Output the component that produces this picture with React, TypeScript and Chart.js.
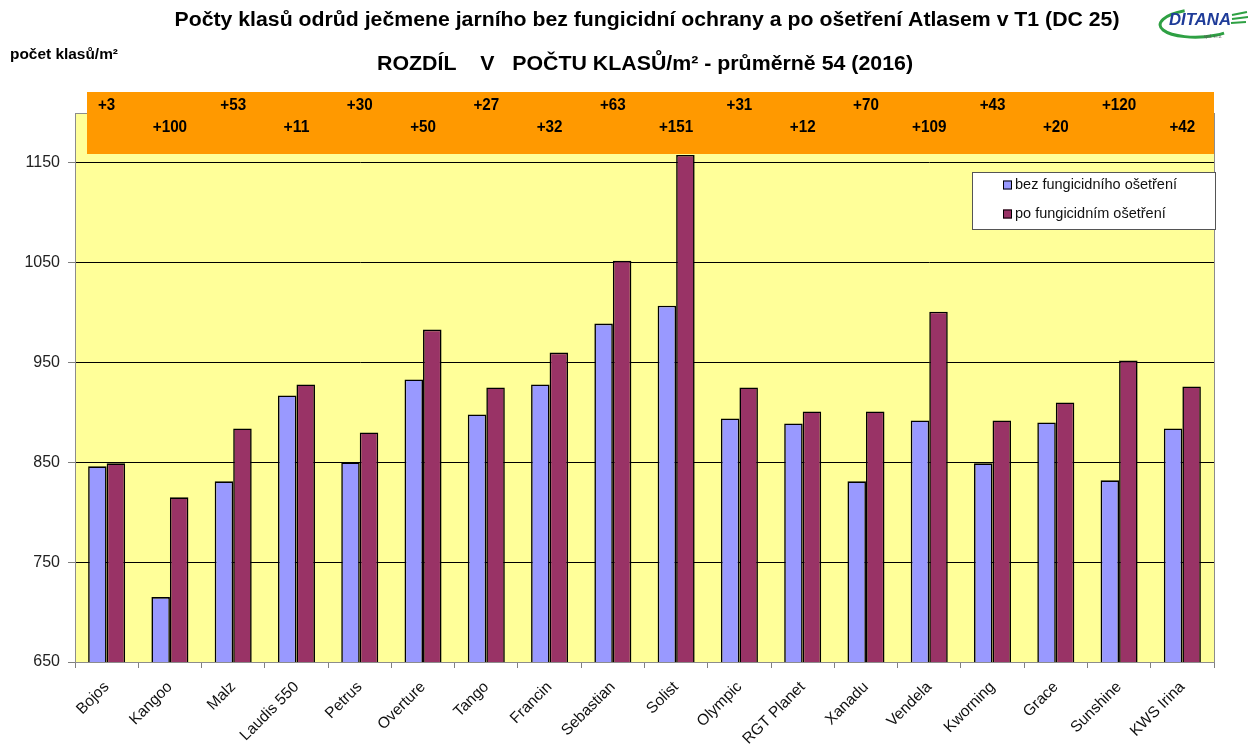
import React, { useEffect, useRef } from "react";
import { Chart, registerables } from "chart.js";

Chart.register(...registerables);

const categories = [
  "Bojos", "Kangoo", "Malz", "Laudis 550", "Petrus", "Overture", "Tango", "Francin", "Sebastian",
  "Solist", "Olympic", "RGT Planet", "Xanadu", "Vendela", "Kworning", "Grace", "Sunshine", "KWS Irina",
];
const withoutFungicide = [846, 715, 831, 917, 850, 933, 898, 928, 989, 1007, 894, 889, 831, 892, 849, 890, 832, 884];
const withFungicide = [849, 815, 884, 928, 880, 983, 925, 960, 1052, 1158, 925, 901, 901, 1001, 892, 910, 952, 926];
const differences = [3, 100, 53, 11, 30, 50, 27, 32, 63, 151, 31, 12, 70, 109, 43, 20, 120, 42];
const yTicks = [650, 750, 850, 950, 1050, 1150];
const yMin = 650;
const yMax = 1200;

const seriesLabels = ["bez fungicidního ošetření", "po fungicidním ošetření"];
const titleText = "Počty klasů odrůd ječmene jarního bez fungicidní ochrany a po ošetření Atlasem v T1 (DC 25)";
const subtitleText = "ROZDÍL    V   POČTU KLASŮ/m² - průměrně 54 (2016)";
const yAxisTitle = "počet klasů/m²";
const logoText = "DITANA";

const SANS = "'Liberation Sans', Arial, sans-serif";

function drawFit(ctx: CanvasRenderingContext2D, text: string, cx: number, cy: number, width: number, font: string, color: string) {
  ctx.save();
  ctx.font = font;
  const w = ctx.measureText(text).width;
  ctx.translate(cx, cy);
  ctx.scale(width / w, 1);
  ctx.textAlign = "center";
  ctx.textBaseline = "middle";
  ctx.fillStyle = color;
  ctx.fillText(text, 0, 0);
  ctx.restore();
}

const decorPlugin = {
  id: "decor",
  beforeDraw(chart: any) {
    const { ctx, chartArea } = chart;
    ctx.save();
    ctx.fillStyle = "#FFFFFF";
    ctx.fillRect(0, 0, chart.width, chart.height);
    ctx.fillStyle = "#FFFF99";
    ctx.fillRect(chartArea.left, chartArea.top, chartArea.right - chartArea.left, chartArea.bottom - chartArea.top);
    ctx.restore();
  },
  beforeDatasetsDraw(chart: any) {
    const { ctx, chartArea } = chart;
    ctx.save();
    ctx.strokeStyle = "#8C8C8C";
    ctx.lineWidth = 1;
    ctx.strokeRect(chartArea.left + 0.5, chartArea.top + 0.5, chartArea.right - chartArea.left, chartArea.bottom - chartArea.top);
    ctx.restore();
  },
  afterDatasetsDraw(chart: any) {
    const { ctx, chartArea } = chart;
    const xScale = chart.scales.x;
    ctx.save();
    // orange difference band
    const bandTop = chartArea.top - 21;
    const bandLeft = chartArea.left + 12;
    ctx.fillStyle = "#FF9900";
    ctx.fillRect(bandLeft, bandTop, chartArea.right - bandLeft, 62);
    differences.forEach((d, i) => {
      const x = xScale.getPixelForValue(i);
      const y = i % 2 === 0 ? bandTop + 13 : bandTop + 35;
      const label = "+" + d;
      drawFit(ctx, label, x, y, label.length * 8.6, `bold 17px ${SANS}`, "#000");
    });

    // legend box
    const lx = 972, ly = 172, lw = 243, lh = 57;
    ctx.fillStyle = "#FFFFFF";
    ctx.fillRect(lx, ly, lw, lh);
    ctx.strokeStyle = "#555555";
    ctx.lineWidth = 1;
    ctx.strokeRect(lx + 0.5, ly + 0.5, lw, lh);
    const ds = chart.data.datasets;
    ds.forEach((d: any, i: number) => {
      const cy = ly + 13 + i * 29;
      ctx.fillStyle = d.backgroundColor;
      ctx.fillRect(1003, cy - 4.5, 9, 9);
      ctx.strokeStyle = "#000";
      ctx.strokeRect(1003.5, cy - 4, 8, 8);
      ctx.fillStyle = "#111";
      ctx.font = `14.5px ${SANS}`;
      ctx.textAlign = "left";
      ctx.textBaseline = "middle";
      ctx.fillText(d.label, 1015, cy);
    });
    ctx.restore();
  },
  afterDraw(chart: any) {
    const { ctx } = chart;
    drawFit(ctx, titleText, 647, 20, 945, `bold 20px ${SANS}`, "#000");
    drawFit(ctx, subtitleText, 645, 64, 536, `bold 20px ${SANS}`, "#000");
    drawFit(ctx, yAxisTitle, 64, 55, 108, `bold 14px ${SANS}`, "#000");

    // logo
    ctx.save();
    ctx.strokeStyle = "#2EA043";
    ctx.lineWidth = 3;
    ctx.beginPath();
    ctx.ellipse(1200, 23, 40, 14, -0.05, Math.PI * 1.38, Math.PI * 0.3, true);
    ctx.stroke();
    ctx.lineWidth = 2;
    ctx.beginPath();
    ctx.moveTo(1232, 15); ctx.lineTo(1247, 12);
    ctx.moveTo(1232, 19); ctx.lineTo(1248, 17);
    ctx.moveTo(1231, 23); ctx.lineTo(1246, 22);
    ctx.stroke();
    ctx.restore();
    drawFit(ctx, logoText, 1200, 20, 62, `italic bold 17px ${SANS}`, "#1F3C99");
    drawFit(ctx, "spol. s r.o.", 1213, 36, 18, `6px ${SANS}`, "#555");
  },
};

export default function App() {
  const canvasRef = useRef<HTMLCanvasElement | null>(null);

  useEffect(() => {
    if (!canvasRef.current) return;
    const chart = new Chart(canvasRef.current, {
      type: "bar",
      data: {
        labels: categories,
        datasets: [
          {
            label: seriesLabels[0],
            data: withoutFungicide,
            backgroundColor: "#9999FF",
            borderColor: "#000000",
            borderWidth: 1.6,
            categoryPercentage: 0.585,
            barPercentage: 1,
          },
          {
            label: seriesLabels[1],
            data: withFungicide,
            backgroundColor: "#993366",
            borderColor: "#000000",
            borderWidth: 1.6,
            categoryPercentage: 0.585,
            barPercentage: 1,
          },
        ],
      },
      options: {
        responsive: false,
        animation: false,
        devicePixelRatio: 1,
        layout: { padding: { left: 0, right: 34, top: 113, bottom: 0 } },
        plugins: {
          legend: { display: false },
          tooltip: { enabled: false },
          title: { display: false },
        },
        scales: {
          x: {
            grid: { offset: true, drawOnChartArea: false, tickLength: 6, color: "#808080" },
            border: { color: "#808080" },
            ticks: {
              maxRotation: 45,
              minRotation: 45,
              autoSkip: false,
              padding: 10,
              color: "#111",
              font: { family: SANS, size: 15.5 },
            },
            afterFit: (s: any) => { s.height = 83; },
          },
          y: {
            min: yMin,
            max: yMax,
            afterBuildTicks: (s: any) => { s.ticks = yTicks.map((v) => ({ value: v })); },
            grid: { color: "#000000", tickColor: "#808080", tickLength: 7, lineWidth: 1 },
            border: { color: "#808080" },
            ticks: {
              padding: 8,
              color: "#222",
              font: { family: SANS, size: 16 },
              callback: (v: any) => String(v),
            },
            afterFit: (s: any) => { s.width = 75; },
          },
        },
      },
      plugins: [decorPlugin],
    });
    return () => chart.destroy();
  }, []);

  return (
    <div style={{ position: "absolute", left: 0, top: 0, width: 1248, height: 745 }}>
      <canvas ref={canvasRef} width={1248} height={745} />
    </div>
  );
}
